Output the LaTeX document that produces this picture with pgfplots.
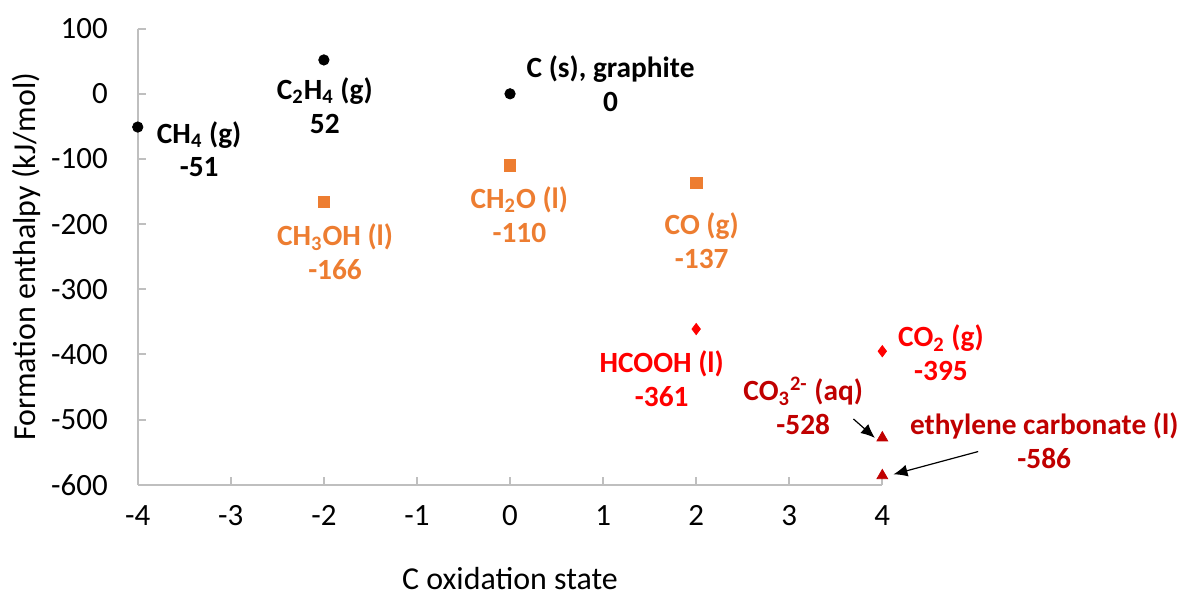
\documentclass[border=0pt]{standalone}
\usepackage{pgfplots}
\pgfplotsset{compat=1.18}
\usetikzlibrary{arrows.meta}
\usepackage{fontspec}
\setmainfont{Carlito}
\definecolor{axgray}{HTML}{BFBFBF}
\definecolor{xorange}{HTML}{ED7D31}
\definecolor{xred}{HTML}{FF0000}
\definecolor{xdark}{HTML}{C00000}
\begin{document}
\begin{tikzpicture}[lbl/.style={font=\fontsize{14.7}{17}\selectfont\bfseries, align=center},
    callout/.style={-{Latex[length=7pt,width=6pt]}, black, line width=0.6pt}]
\begin{axis}[
    width=373pt, height=228.5pt, scale only axis,
    xmin=-4, xmax=4, ymin=-600, ymax=100,
    axis lines=left,
    axis line style={draw=axgray, line width=1pt, -},
    tick style={draw=axgray, line width=1pt},
    major tick length=4pt, tick align=inside,
    xtick={-4,-3,...,4}, ytick={-600,-500,...,100},
    font=\fontsize{15.5}{18}\selectfont,
    ticklabel style={font=\fontsize{15.5}{18}\selectfont},
    xticklabel style={yshift=-7pt},
    yticklabel style={xshift=-11.5pt},
    /pgf/number format/assume math mode=true,
    xlabel={C oxidation state},
    ylabel={Formation enthalpy (kJ/mol)},
    label style={font=\fontsize{16}{19}\selectfont},
    xlabel style={at={(axis description cs:0.5,-0.206)}, anchor=center},
    ylabel style={at={(axis description cs:-0.15,0.5)}, anchor=center},
    clip=false,
]
% black circles
\addplot[only marks, mark=*, mark size=2.6pt, black] coordinates {(-4,-51) (-2,52) (0,0)};
% orange squares
\addplot[only marks, mark=square*, mark size=2.9pt, xorange] coordinates {(-2,-166) (0,-110) (2,-137)};
% red diamonds
\addplot[only marks, mark=diamond*, mark size=2.8pt, xred] coordinates {(2,-361) (4,-395)};
% dark red triangles
\addplot[only marks, mark=triangle*, mark size=3.1pt, xdark] coordinates {(4,-528) (4,-586)};

\node[lbl, black] at (axis cs:-3.34,-85) {CH\textsubscript{4} (g)\\-51};
\node[lbl, black] at (axis cs:-1.99,-18) {C\textsubscript{2}H\textsubscript{4} (g)\\52};
\node[lbl, black] at (axis cs:1.08,16) {C (s), graphite\\0};
\node[lbl, xorange] at (axis cs:-1.88,-243) {CH\textsubscript{3}OH (l)\\-166};
\node[lbl, xorange] at (axis cs:0.10,-185) {CH\textsubscript{2}O (l)\\-110};
\node[lbl, xorange] at (axis cs:2.06,-225) {CO (g)\\-137};
\node[lbl, xred] at (axis cs:1.63,-437) {HCOOH (l)\\-361};
\node[lbl, xred] at (axis cs:4.63,-398) {CO\textsubscript{2} (g)\\-395};
\node[lbl, xdark] at (axis cs:3.15,-479) {CO\textsubscript{3}\textsuperscript{2-} (aq)\\-528};
\node[lbl, xdark] at (axis cs:5.74,-532) {ethylene carbonate (l)\\-586};
\draw[callout] (axis cs:3.69,-499) -- (axis cs:3.92,-528);
\draw[callout] (axis cs:5.03,-549) -- (axis cs:4.12,-584);
% page extent matching the reference frame
\path (axis cs:-5.48,144) rectangle (axis cs:7.228,-753);
\end{axis}
\end{tikzpicture}
\end{document}
